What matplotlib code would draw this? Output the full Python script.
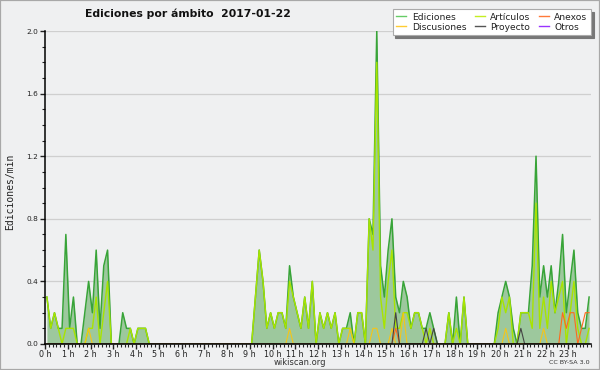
import numpy as np
import matplotlib.pyplot as plt
from matplotlib.lines import Line2D
from matplotlib.patches import Rectangle
from matplotlib.ticker import MultipleLocator, FormatStrFormatter

# ------------------ DATA ------------------
# edits per minute, 10-minute bins (6 per hour), 2017-01-22
bin_minutes = 10
hour_labels = [f"{h} h" for h in range(24)]
series_names = ["Ediciones", "Discusiones", "Artículos", "Proyecto", "Anexos", "Otros"]

ediciones = [
    0.3, 0.1, 0.2, 0.1, 0.1, 0.7,  # 0 h
    0.1, 0.3, 0.0, 0.0, 0.2, 0.4,  # 1 h
    0.2, 0.6, 0.1, 0.5, 0.6, 0.0,  # 2 h
    0.0, 0.0, 0.2, 0.1, 0.1, 0.0,  # 3 h
    0.1, 0.1, 0.1, 0.0, 0.0, 0.0,  # 4 h
    0.0, 0.0, 0.0, 0.0, 0.0, 0.0,  # 5 h
    0.0, 0.0, 0.0, 0.0, 0.0, 0.0,  # 6 h
    0.0, 0.0, 0.0, 0.0, 0.0, 0.0,  # 7 h
    0.0, 0.0, 0.0, 0.0, 0.0, 0.0,  # 8 h
    0.0, 0.3, 0.6, 0.4, 0.1, 0.2,  # 9 h
    0.1, 0.2, 0.2, 0.1, 0.5, 0.3,  # 10 h
    0.2, 0.1, 0.3, 0.1, 0.4, 0.0,  # 11 h
    0.2, 0.1, 0.2, 0.1, 0.2, 0.0,  # 12 h
    0.1, 0.1, 0.2, 0.0, 0.2, 0.2,  # 13 h
    0.0, 0.8, 0.7, 2.0, 0.5, 0.3,  # 14 h
    0.6, 0.8, 0.3, 0.2, 0.4, 0.3,  # 15 h
    0.1, 0.2, 0.2, 0.1, 0.1, 0.2,  # 16 h
    0.1, 0.0, 0.0, 0.0, 0.2, 0.0,  # 17 h
    0.3, 0.0, 0.3, 0.0, 0.0, 0.0,  # 18 h
    0.0, 0.0, 0.0, 0.0, 0.0, 0.2,  # 19 h
    0.3, 0.4, 0.3, 0.1, 0.0, 0.2,  # 20 h
    0.2, 0.2, 0.5, 1.2, 0.3, 0.5,  # 21 h
    0.3, 0.5, 0.2, 0.4, 0.7, 0.2,  # 22 h
    0.4, 0.6, 0.2, 0.1, 0.1, 0.3,  # 23 h
]

articulos = [
    0.3, 0.1, 0.2, 0.1, 0.0, 0.1,  # 0 h
    0.1, 0.1, 0.0, 0.0, 0.0, 0.1,  # 1 h
    0.1, 0.3, 0.0, 0.2, 0.4, 0.0,  # 2 h
    0.0, 0.0, 0.0, 0.0, 0.1, 0.0,  # 3 h
    0.1, 0.1, 0.1, 0.0, 0.0, 0.0,  # 4 h
    0.0, 0.0, 0.0, 0.0, 0.0, 0.0,  # 5 h
    0.0, 0.0, 0.0, 0.0, 0.0, 0.0,  # 6 h
    0.0, 0.0, 0.0, 0.0, 0.0, 0.0,  # 7 h
    0.0, 0.0, 0.0, 0.0, 0.0, 0.0,  # 8 h
    0.0, 0.3, 0.6, 0.4, 0.1, 0.2,  # 9 h
    0.1, 0.2, 0.2, 0.1, 0.4, 0.3,  # 10 h
    0.2, 0.1, 0.3, 0.1, 0.4, 0.0,  # 11 h
    0.2, 0.1, 0.2, 0.1, 0.2, 0.0,  # 12 h
    0.1, 0.1, 0.1, 0.0, 0.2, 0.2,  # 13 h
    0.0, 0.8, 0.6, 1.8, 0.3, 0.1,  # 14 h
    0.4, 0.6, 0.1, 0.1, 0.2, 0.2,  # 15 h
    0.1, 0.2, 0.2, 0.1, 0.0, 0.1,  # 16 h
    0.0, 0.0, 0.0, 0.0, 0.2, 0.0,  # 17 h
    0.1, 0.0, 0.3, 0.0, 0.0, 0.0,  # 18 h
    0.0, 0.0, 0.0, 0.0, 0.0, 0.1,  # 19 h
    0.3, 0.2, 0.3, 0.0, 0.0, 0.2,  # 20 h
    0.2, 0.2, 0.1, 0.9, 0.1, 0.3,  # 21 h
    0.1, 0.4, 0.2, 0.3, 0.4, 0.0,  # 22 h
    0.2, 0.4, 0.1, 0.0, 0.0, 0.1,  # 23 h
]

discusiones = [
    0.0, 0.0, 0.0, 0.0, 0.0, 0.0,  # 0 h
    0.0, 0.0, 0.0, 0.0, 0.0, 0.1,  # 1 h
    0.0, 0.0, 0.0, 0.0, 0.0, 0.0,  # 2 h
    0.0, 0.0, 0.0, 0.0, 0.0, 0.0,  # 3 h
    0.0, 0.0, 0.0, 0.0, 0.0, 0.0,  # 4 h
    0.0, 0.0, 0.0, 0.0, 0.0, 0.0,  # 5 h
    0.0, 0.0, 0.0, 0.0, 0.0, 0.0,  # 6 h
    0.0, 0.0, 0.0, 0.0, 0.0, 0.0,  # 7 h
    0.0, 0.0, 0.0, 0.0, 0.0, 0.0,  # 8 h
    0.0, 0.0, 0.0, 0.0, 0.0, 0.0,  # 9 h
    0.0, 0.0, 0.0, 0.0, 0.1, 0.0,  # 10 h
    0.0, 0.0, 0.0, 0.0, 0.0, 0.0,  # 11 h
    0.0, 0.0, 0.0, 0.0, 0.0, 0.0,  # 12 h
    0.0, 0.0, 0.1, 0.0, 0.0, 0.0,  # 13 h
    0.0, 0.0, 0.1, 0.1, 0.0, 0.0,  # 14 h
    0.0, 0.1, 0.0, 0.0, 0.2, 0.0,  # 15 h
    0.0, 0.0, 0.0, 0.0, 0.0, 0.0,  # 16 h
    0.0, 0.0, 0.0, 0.0, 0.0, 0.0,  # 17 h
    0.0, 0.0, 0.0, 0.0, 0.0, 0.0,  # 18 h
    0.0, 0.0, 0.0, 0.0, 0.0, 0.0,  # 19 h
    0.0, 0.1, 0.0, 0.0, 0.0, 0.0,  # 20 h
    0.0, 0.0, 0.0, 0.0, 0.0, 0.1,  # 21 h
    0.0, 0.0, 0.0, 0.0, 0.0, 0.0,  # 22 h
    0.0, 0.0, 0.0, 0.0, 0.0, 0.0,  # 23 h
]

proyecto = [
    0.0, 0.0, 0.0, 0.0, 0.0, 0.0,  # 0 h
    0.0, 0.0, 0.0, 0.0, 0.0, 0.0,  # 1 h
    0.0, 0.0, 0.0, 0.0, 0.0, 0.0,  # 2 h
    0.0, 0.0, 0.0, 0.0, 0.0, 0.0,  # 3 h
    0.0, 0.0, 0.0, 0.0, 0.0, 0.0,  # 4 h
    0.0, 0.0, 0.0, 0.0, 0.0, 0.0,  # 5 h
    0.0, 0.0, 0.0, 0.0, 0.0, 0.0,  # 6 h
    0.0, 0.0, 0.0, 0.0, 0.0, 0.0,  # 7 h
    0.0, 0.0, 0.0, 0.0, 0.0, 0.0,  # 8 h
    0.0, 0.0, 0.0, 0.0, 0.0, 0.0,  # 9 h
    0.0, 0.0, 0.0, 0.0, 0.0, 0.0,  # 10 h
    0.0, 0.0, 0.0, 0.0, 0.0, 0.0,  # 11 h
    0.0, 0.0, 0.0, 0.0, 0.0, 0.0,  # 12 h
    0.0, 0.0, 0.0, 0.0, 0.0, 0.0,  # 13 h
    0.0, 0.0, 0.0, 0.0, 0.0, 0.0,  # 14 h
    0.0, 0.0, 0.2, 0.0, 0.0, 0.0,  # 15 h
    0.0, 0.0, 0.0, 0.0, 0.1, 0.0,  # 16 h
    0.1, 0.0, 0.0, 0.0, 0.0, 0.0,  # 17 h
    0.0, 0.0, 0.0, 0.0, 0.0, 0.0,  # 18 h
    0.0, 0.0, 0.0, 0.0, 0.0, 0.0,  # 19 h
    0.0, 0.0, 0.0, 0.0, 0.0, 0.1,  # 20 h
    0.0, 0.0, 0.0, 0.0, 0.0, 0.0,  # 21 h
    0.0, 0.0, 0.0, 0.0, 0.0, 0.0,  # 22 h
    0.0, 0.0, 0.0, 0.0, 0.0, 0.0,  # 23 h
]

anexos = [
    0.0, 0.0, 0.0, 0.0, 0.0, 0.0,  # 0 h
    0.0, 0.0, 0.0, 0.0, 0.0, 0.0,  # 1 h
    0.0, 0.0, 0.0, 0.0, 0.0, 0.0,  # 2 h
    0.0, 0.0, 0.0, 0.0, 0.0, 0.0,  # 3 h
    0.0, 0.0, 0.0, 0.0, 0.0, 0.0,  # 4 h
    0.0, 0.0, 0.0, 0.0, 0.0, 0.0,  # 5 h
    0.0, 0.0, 0.0, 0.0, 0.0, 0.0,  # 6 h
    0.0, 0.0, 0.0, 0.0, 0.0, 0.0,  # 7 h
    0.0, 0.0, 0.0, 0.0, 0.0, 0.0,  # 8 h
    0.0, 0.0, 0.0, 0.0, 0.0, 0.0,  # 9 h
    0.0, 0.0, 0.0, 0.0, 0.0, 0.0,  # 10 h
    0.0, 0.0, 0.0, 0.0, 0.0, 0.0,  # 11 h
    0.0, 0.0, 0.0, 0.0, 0.0, 0.0,  # 12 h
    0.0, 0.0, 0.0, 0.0, 0.0, 0.0,  # 13 h
    0.0, 0.0, 0.0, 0.0, 0.0, 0.0,  # 14 h
    0.0, 0.0, 0.1, 0.0, 0.0, 0.0,  # 15 h
    0.0, 0.0, 0.0, 0.0, 0.0, 0.0,  # 16 h
    0.0, 0.0, 0.0, 0.0, 0.0, 0.0,  # 17 h
    0.0, 0.0, 0.0, 0.0, 0.0, 0.0,  # 18 h
    0.0, 0.0, 0.0, 0.0, 0.0, 0.0,  # 19 h
    0.0, 0.0, 0.0, 0.0, 0.0, 0.0,  # 20 h
    0.0, 0.0, 0.0, 0.0, 0.0, 0.0,  # 21 h
    0.0, 0.0, 0.0, 0.0, 0.2, 0.1,  # 22 h
    0.2, 0.2, 0.0, 0.1, 0.2, 0.2,  # 23 h
]

otros = [
    0.0, 0.0, 0.0, 0.0, 0.0, 0.0,  # 0 h
    0.0, 0.0, 0.0, 0.0, 0.0, 0.0,  # 1 h
    0.0, 0.0, 0.0, 0.0, 0.0, 0.0,  # 2 h
    0.0, 0.0, 0.0, 0.0, 0.0, 0.0,  # 3 h
    0.0, 0.0, 0.0, 0.0, 0.0, 0.0,  # 4 h
    0.0, 0.0, 0.0, 0.0, 0.0, 0.0,  # 5 h
    0.0, 0.0, 0.0, 0.0, 0.0, 0.0,  # 6 h
    0.0, 0.0, 0.0, 0.0, 0.0, 0.0,  # 7 h
    0.0, 0.0, 0.0, 0.0, 0.0, 0.0,  # 8 h
    0.0, 0.0, 0.0, 0.0, 0.0, 0.0,  # 9 h
    0.0, 0.0, 0.0, 0.0, 0.0, 0.0,  # 10 h
    0.0, 0.0, 0.0, 0.0, 0.0, 0.0,  # 11 h
    0.0, 0.0, 0.0, 0.0, 0.0, 0.0,  # 12 h
    0.0, 0.0, 0.0, 0.0, 0.0, 0.0,  # 13 h
    0.0, 0.0, 0.0, 0.0, 0.0, 0.0,  # 14 h
    0.0, 0.0, 0.0, 0.0, 0.0, 0.0,  # 15 h
    0.0, 0.0, 0.0, 0.0, 0.0, 0.0,  # 16 h
    0.0, 0.0, 0.0, 0.0, 0.0, 0.0,  # 17 h
    0.0, 0.0, 0.0, 0.0, 0.0, 0.0,  # 18 h
    0.0, 0.0, 0.0, 0.0, 0.0, 0.0,  # 19 h
    0.0, 0.0, 0.0, 0.0, 0.0, 0.0,  # 20 h
    0.0, 0.0, 0.0, 0.0, 0.0, 0.0,  # 21 h
    0.0, 0.0, 0.0, 0.0, 0.0, 0.0,  # 22 h
    0.0, 0.0, 0.0, 0.0, 0.0, 0.0,  # 23 h
]

# ------------------ STYLE ------------------
bg = "#eff0f1"
col_ed_line = "#38a438"
col_ed_fill = "#9dc89d"
col_art = "#a8e400"
col_disc = "#f5c518"
col_proy = "#444444"
col_anex = "#ff6a1a"
col_otros = "#9933ff"

# x position = centre of each 10-minute bin, in hours
x = (np.arange(len(ediciones)) + 0.5) * bin_minutes / 60

fig = plt.figure(figsize=(6, 3.7), dpi=100, facecolor=bg)
ax = fig.add_axes([45 / 600, 26 / 370, 546 / 600, 313 / 370], facecolor=bg)

ax.fill_between(x, ediciones, color=col_ed_fill, lw=0, zorder=1)
ax.plot(x, ediciones, color=col_ed_line, lw=1.1, zorder=2)
ax.plot(x, articulos, color=col_art, lw=1.0, zorder=3)
ax.plot(x, discusiones, color=col_disc, lw=0.8, zorder=4)
ax.plot(x, anexos, color=col_anex, lw=0.8, zorder=5)
ax.plot(x, proyecto, color=col_proy, lw=0.8, zorder=6)
ax.plot(x, otros, color=col_otros, lw=0.8, zorder=0.5)

ax.set_xlim(0, 24)
ax.set_ylim(0, 2.0)

ax.set_xticks(range(24))
ax.set_xticklabels(hour_labels)
ax.xaxis.set_minor_locator(MultipleLocator(bin_minutes / 60))
ax.set_yticks(np.arange(0, 2.01, 0.4))
ax.yaxis.set_major_formatter(FormatStrFormatter("%.1f"))
ax.yaxis.set_minor_locator(MultipleLocator(0.1))

ax.tick_params(which="major", direction="out", length=3.5, width=1,
               labelsize=5.8, colors="#222222", pad=0.8)
ax.tick_params(which="minor", direction="out", length=2.5, width=0.8, colors="#222222")
ax.tick_params(axis="y", labelsize=5.3, pad=1.5)

ax.grid(axis="y", which="major", color="#cfcfcf", lw=0.9)
ax.set_axisbelow(True)
for s in ["top", "right"]:
    ax.spines[s].set_visible(False)
for s in ["left", "bottom"]:
    ax.spines[s].set_linewidth(1.1)
    ax.spines[s].set_zorder(10)

# legend
legend_colors = ["#66cc66", "#ffcc33", "#c4ee22", "#555555", "#ff7a3a", col_otros]
handles = [Line2D([], [], color=c, lw=1) for c in legend_colors]
leg = fig.legend(handles, series_names, ncol=3, loc="upper right",
                 bbox_to_anchor=(591 / 600, 1 - 9 / 370), fontsize=6.6,
                 frameon=True, fancybox=False, shadow={"color": "#777777", "alpha": 1},
                 handlelength=1.1, handletextpad=0.6, columnspacing=0.9,
                 borderpad=0.4, labelspacing=0.1, borderaxespad=0)
leg.get_frame().set_edgecolor("#aaaaaa")
leg.get_frame().set_linewidth(0.8)
for t in leg.get_texts():
    t.set_color("#222222")

# texts
fig.text(85 / 600, 1 - 14 / 370, "Ediciones por ámbito  2017-01-22",
         fontsize=7.8, fontweight="bold", va="center", ha="left", color="#111111")
fig.text(10 / 600, 1 - 192 / 370, "Ediciones/min", rotation=90,
         family="DejaVu Sans Mono", fontsize=7, va="center", ha="center", color="#222222")
fig.text(300 / 600, 1 - 362.5 / 370, "wikiscan.org", fontsize=6,
         va="center", ha="center", color="#333333")
fig.text(590 / 600, 1 - 363 / 370, "CC BY-SA 3.0", fontsize=4.6,
         va="center", ha="right", color="#333333")

fig.add_artist(Rectangle((0, 0), 1, 1, transform=fig.transFigure, fill=False,
                         ec="#a8a8a8", lw=1.6))

fig.savefig("out.png", dpi=100, facecolor=bg)
